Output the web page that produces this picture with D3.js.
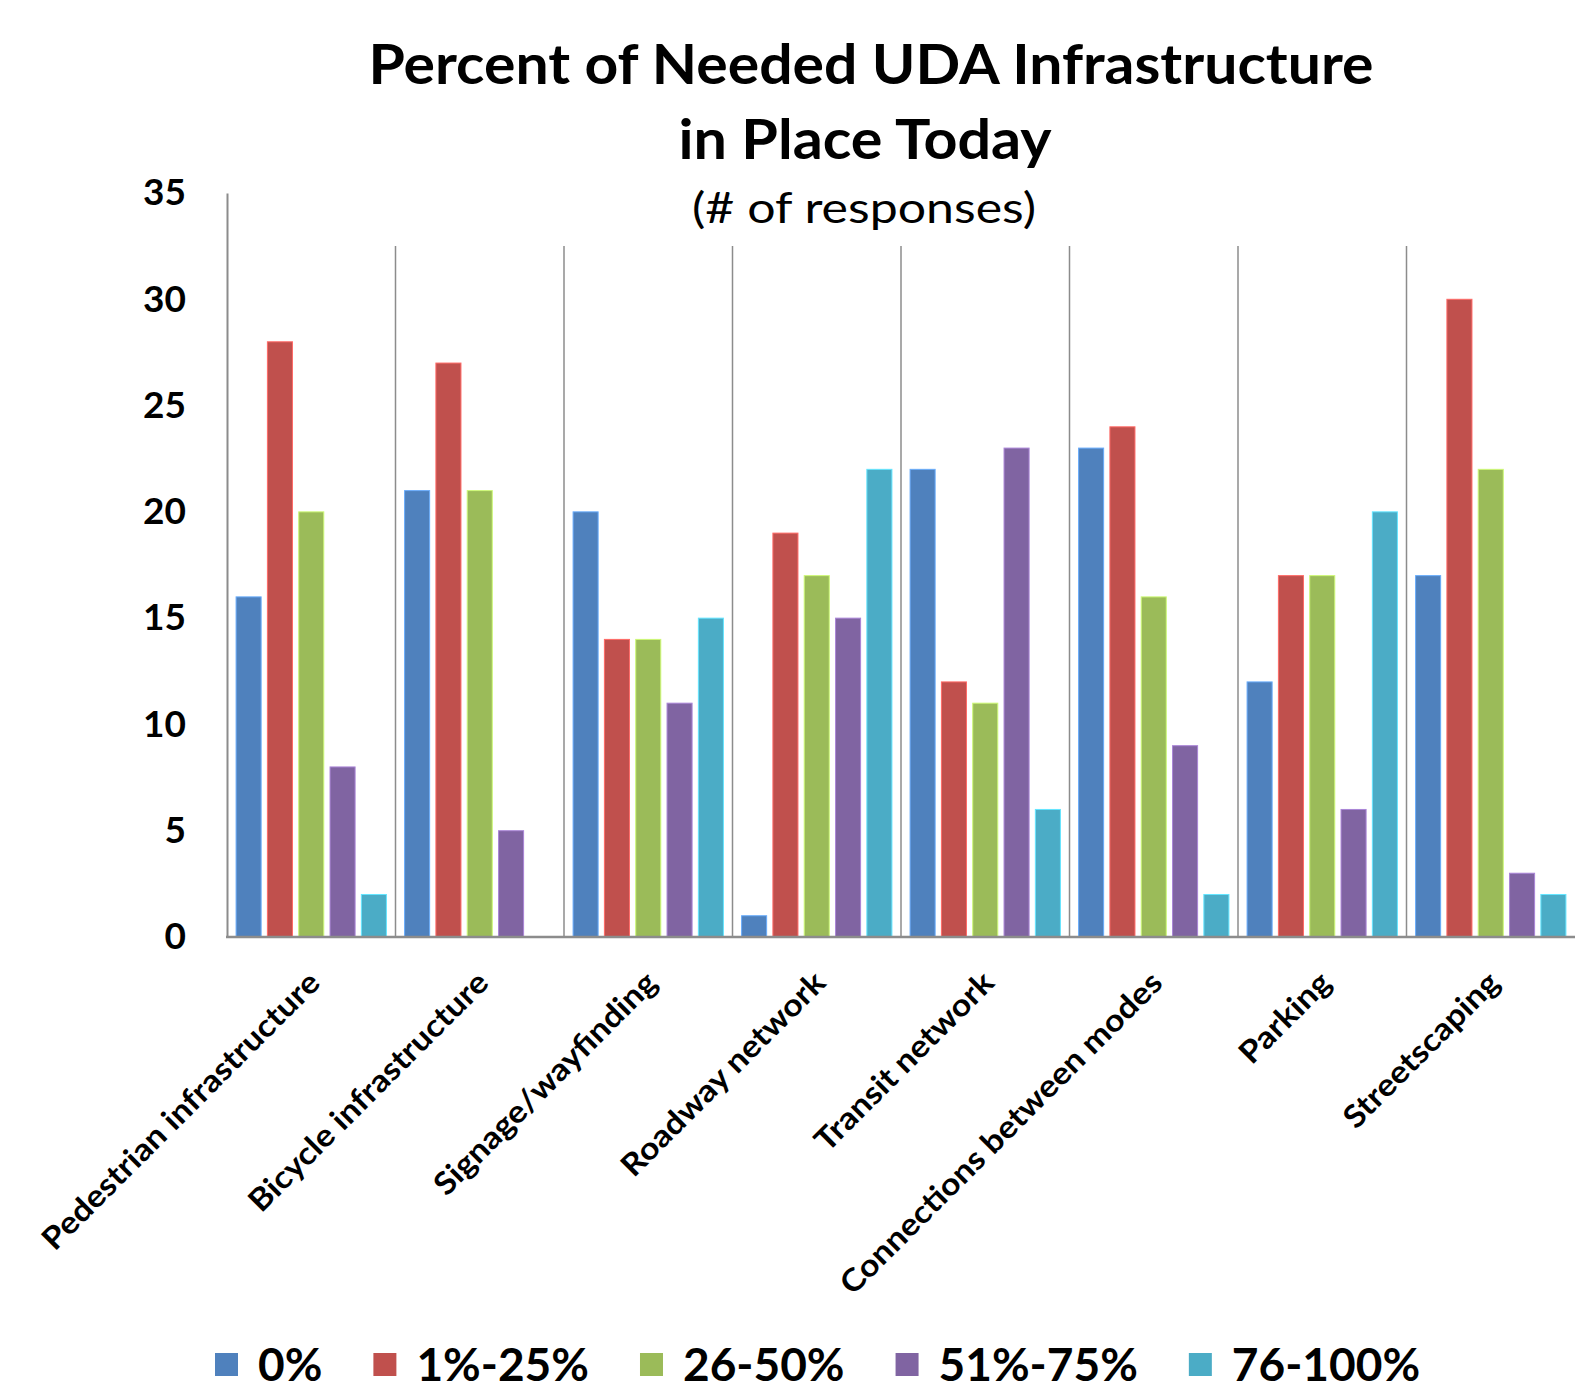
<!DOCTYPE html>
<html>
<head>
<meta charset="utf-8">
<script src="https://cdn.jsdelivr.net/npm/d3@7"></script>
<style>
  body { margin: 0; background: #fff; }
  text { font-family: Lato, "Open Sans", sans-serif; fill: #000; }
</style>
</head>
<body>
<div id="vis"></div>
<script>
// chart data
const categories = ["Pedestrian infrastructure", "Bicycle infrastructure", "Signage/wayfinding",
  "Roadway network", "Transit network", "Connections between modes", "Parking", "Streetscaping"];
const seriesNames = ["0%", "1%-25%", "26-50%", "51%-75%", "76-100%"];
const values0 = [16, 21, 20, 1, 22, 23, 12, 17];
const values1to25 = [28, 27, 14, 19, 12, 24, 17, 30];
const values26to50 = [20, 21, 14, 17, 11, 16, 17, 22];
const values51to75 = [8, 5, 11, 15, 23, 9, 6, 3];
const values76to100 = [2, 0, 15, 22, 6, 2, 20, 2];
const yTicks = [0, 5, 10, 15, 20, 25, 30, 35];
const colors = ["#4F81BD", "#C0504D", "#9BBB59", "#8064A2", "#4BACC6"];

const allSeries = [values0, values1to25, values26to50, values51to75, values76to100];

const W = 1577, H = 1398;
const plot = { left: 227, right: 1575, top: 193, gridTop: 246, bottom: 937 };

const svg = d3.select("#vis")
  .append("svg")
    .attr("width", W)
    .attr("height", H);

// scales
const xScale = d3.scaleBand()
  .domain(categories)
  .range([plot.left, plot.right])
  .padding(0);

const xInner = d3.scaleBand()
  .domain(seriesNames)
  .range([0, xScale.bandwidth()])
  .paddingInner(0.2)
  .paddingOuter(0.29);

const yScale = d3.scaleLinear()
  .domain([0, 35])
  .range([plot.bottom, plot.top]);

// vertical separators between categories
svg.append("g")
  .selectAll("line")
  .data(categories.slice(1))
  .join("line")
    .attr("x1", d => xScale(d))
    .attr("x2", d => xScale(d))
    .attr("y1", plot.gridTop)
    .attr("y2", plot.bottom)
    .attr("stroke", "#8c8c8c")
    .attr("stroke-width", 1.5);

// bars
const rows = [];
categories.forEach((c, i) => {
  seriesNames.forEach((s, j) => {
    rows.push({ cat: c, series: s, value: allSeries[j][i], color: colors[j] });
  });
});

svg.append("g")
  .selectAll("rect")
  .data(rows.filter(d => d.value > 0))
  .join("rect")
    .attr("x", d => xScale(d.cat) + xInner(d.series))
    .attr("y", d => yScale(d.value))
    .attr("width", xInner.bandwidth())
    .attr("height", d => yScale(0) - yScale(d.value))
    .attr("fill", d => d.color)
    .attr("stroke", d => d3.color(d.color).brighter(0.8))
    .attr("stroke-width", 1);

// y axis
const yAxis = svg.append("g")
  .attr("transform", `translate(${plot.left}, 0)`)
  .call(d3.axisLeft(yScale).tickValues(yTicks).tickSize(0).tickPadding(41));
yAxis.select(".domain").attr("stroke", "#8c8c8c").attr("stroke-width", 2);
yAxis.selectAll("text")
  .style("font-family", "Lato, sans-serif")
  .style("font-weight", "bold")
  .style("font-size", "37px")
  .attr("fill", "#000");

// baseline
svg.append("line")
  .attr("x1", plot.left - 1)
  .attr("x2", plot.right)
  .attr("y1", yScale(0))
  .attr("y2", yScale(0))
  .attr("stroke", "#8c8c8c")
  .attr("stroke-width", 2.5);

// category labels, rotated (stretched a little to match the narrower original face)
svg.append("g")
  .selectAll("text")
  .data(categories)
  .join("text")
    .attr("transform", d => `translate(${xScale(d) + xScale.bandwidth() / 2 + 3}, 977) rotate(-45)`)
    .attr("text-anchor", "end")
    .attr("dy", "0.35em")
    .style("font-weight", "bold")
    .style("font-size", "31px")
    .text(d => d)
    .each(function() {
      const len = this.getComputedTextLength();
      d3.select(this).attr("textLength", len * 1.1).attr("lengthAdjust", "spacingAndGlyphs");
    });

// title
svg.append("text")
  .attr("x", 871).attr("y", 84)
  .attr("text-anchor", "middle")
  .attr("textLength", 1005).attr("lengthAdjust", "spacingAndGlyphs")
  .style("font-weight", "bold").style("font-size", "55px")
  .text("Percent of Needed UDA Infrastructure");
svg.append("text")
  .attr("x", 865).attr("y", 159)
  .attr("text-anchor", "middle")
  .attr("textLength", 373).attr("lengthAdjust", "spacingAndGlyphs")
  .style("font-weight", "bold").style("font-size", "55px")
  .text("in Place Today");
svg.append("text")
  .attr("x", 864).attr("y", 223)
  .attr("text-anchor", "middle")
  .attr("textLength", 344).attr("lengthAdjust", "spacingAndGlyphs")
  .style("font-size", "43px")
  .text("(# of responses)");

// legend
const legend = svg.append("g");
let lx = 215;
seriesNames.forEach((name, i) => {
  legend.append("rect")
    .attr("x", lx).attr("y", 1353)
    .attr("width", 23).attr("height", 23)
    .attr("fill", colors[i]);
  const t = legend.append("text")
    .attr("x", lx + 43).attr("y", 1381)
    .style("font-weight", "bold").style("font-size", "46px")
    .text(name);
  lx += 43 + t.node().getComputedTextLength() + 51;
});
</script>
</body>
</html>
